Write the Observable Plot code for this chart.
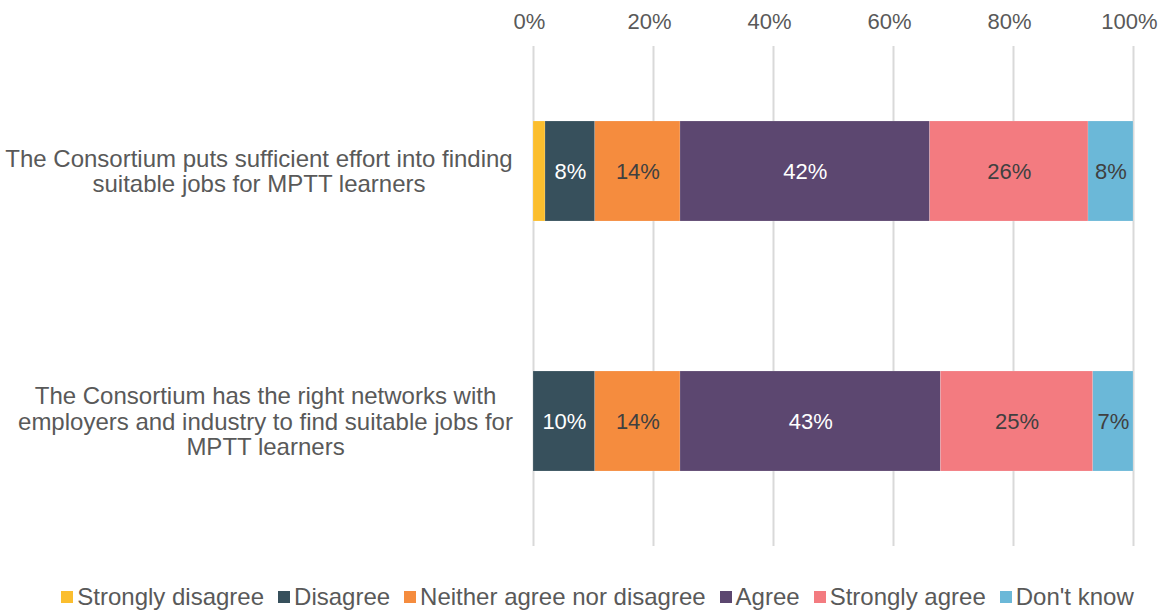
<!DOCTYPE html>
<html>
<head>
<meta charset="utf-8">
<script src="https://cdn.jsdelivr.net/npm/d3@7"></script>
<script src="https://cdn.jsdelivr.net/npm/@observablehq/plot@0.6"></script>
<style>
  html, body { margin: 0; padding: 0; background: #fff; }
  body { width: 1161px; height: 613px; overflow: hidden; font-family: "Liberation Sans", Arial, sans-serif; }
  #legend { display: flex; justify-content: center; align-items: center; gap: 14px; font-size: 24px; color: #595959; margin-top: 37px; padding-left: 34px; white-space: nowrap; line-height: 1; }
  #legend .item { display: flex; align-items: center; }
  #legend .sw { width: 12px; height: 12px; margin-right: 4px; display: inline-block; }
</style>
</head>
<body>
<div id="chart"></div>
<div id="legend"></div>
<script>
const questions = [
  "The Consortium puts sufficient effort into finding\nsuitable jobs for MPTT learners",
  "The Consortium has the right networks with\nemployers and industry to find suitable jobs for\nMPTT learners"
];
const categories = ["Strongly disagree", "Disagree", "Neither agree nor disagree", "Agree", "Strongly agree", "Don't know"];
const colors = ["#FBBE2E", "#37505C", "#F58C3E", "#5C4770", "#F37B80", "#6BB8D8"];
const labelColors = ["#404040", "#ffffff", "#404040", "#ffffff", "#404040", "#404040"];
// percentage values per question, in category order
const q1Values = [2.0, 8.3, 14.2, 41.6, 26.4, 7.5];
const q2Values = [0.0, 10.3, 14.2, 43.4, 25.4, 6.7];
const tickValues = [0, 20, 40, 60, 80, 100];

const rows = [];
[q1Values, q2Values].forEach((vals, qi) => {
  vals.forEach((v, ci) => rows.push({q: questions[qi], cat: categories[ci], value: v, ci}));
});

const yAxisStyle = {tickSize: 0, textAnchor: "middle", fontSize: 24, lineHeight: 1.05, fill: "#595959", label: null};

const chart = Plot.plot({
  width: 1161,
  height: 548,
  marginLeft: 533,
  marginRight: 28,
  marginTop: 46,
  marginBottom: 2,
  style: {fontFamily: "'Liberation Sans', Arial, sans-serif", background: "#fff"},
  x: {domain: [0, 100], ticks: tickValues},
  y: {domain: questions, paddingInner: 0.6, paddingOuter: 0.3, label: null},
  color: {domain: categories, range: colors},
  marks: [
    Plot.ruleX(tickValues, {stroke: "#d9d9d9", strokeWidth: 2}),
    Plot.axisX({anchor: "top", ticks: tickValues, tickFormat: d => d + "%", tickSize: 0, tickPadding: 18, dx: -4, fontSize: 22, fill: "#595959", label: null}),
    Plot.axisY({...yAxisStyle, ticks: [questions[0]], tickPadding: 274.5}),
    Plot.axisY({...yAxisStyle, ticks: [questions[1]], tickPadding: 268}),
    Plot.barX(rows, Plot.stackX({x: "value", y: "q", z: "cat", order: categories, fill: "cat", stroke: "#ffffff", strokeOpacity: 0.3, strokeWidth: 0.5})),
    Plot.text(rows, Plot.stackX({x: "value", y: "q", z: "cat", order: categories,
      text: d => d.value >= 5 ? Math.round(d.value) + "%" : null,
      fill: d => labelColors[d.ci], fontSize: 22}))
  ]
});
document.getElementById("chart").appendChild(chart);

const legend = document.getElementById("legend");
categories.forEach((c, i) => {
  const item = document.createElement("span");
  item.className = "item";
  item.innerHTML = `<span class="sw" style="background:${colors[i]}"></span>${c}`;
  legend.appendChild(item);
});
</script>
</body>
</html>
